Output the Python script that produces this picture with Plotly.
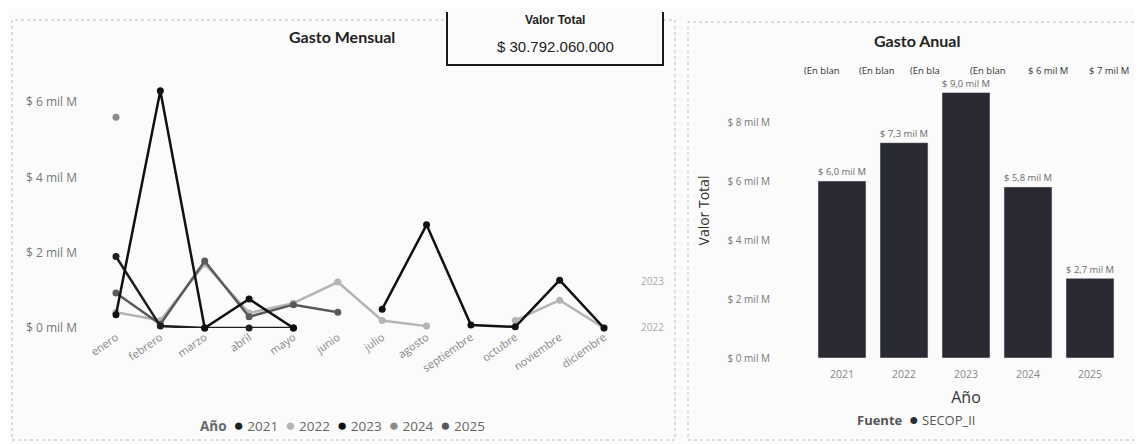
import plotly.graph_objects as go

# ---------------- data ----------------
meses = ["enero", "febrero", "marzo", "abril", "mayo", "junio", "julio",
         "agosto", "septiembre", "octubre", "noviembre", "diciembre"]

gasto_2021 = [1.9, 0.05, 0.0, 0.0, 0.0, None, None, None, None, None, None, None]
gasto_2022 = [0.42, 0.2, 1.7, 0.4, 0.66, 1.22, 0.2, 0.05, None, 0.2, 0.74, 0.0]
gasto_2023 = [0.35, 6.3, 0.0, 0.77, 0.0, None, 0.5, 2.74, 0.08, 0.03, 1.27, 0.0]
gasto_2024 = [5.6, None, None, None, None, None, None, None, None, None, None, None]
gasto_2025 = [0.93, 0.1, 1.78, 0.3, 0.62, 0.42, None, None, None, None, None, None]

anios = ["2021", "2022", "2023", "2024", "2025"]
gasto_anual = [6.0, 7.3, 9.0, 5.8, 2.7]

y_ticks_mensual = [0, 2, 4, 6]
y_ticks_anual = [0, 2, 4, 6, 8]
encabezados_anual = ["(En blan", "(En blan", "(En bla", "(En blan", "$ 6 mil M", "$ 7 mil M"]
valor_total = "$ 30.792.060.000"

# ---------------- helpers ----------------
# the page has an 8px body margin, so the figure starts at (8, 8)
OX, OY = 8, 8
W, H = 1135, 436
def px(x):
    return (x - OX) / W
def py(y):
    return 1 - (y - OY) / H

FONT = "Open Sans"
colores = {"2021": "#1e1e1e", "2022": "#b4b4b4", "2023": "#101010",
           "2024": "#8c8c8c", "2025": "#5a5a5a"}

fig = go.Figure()

series = [("2022", gasto_2022), ("2024", gasto_2024), ("2025", gasto_2025),
          ("2021", gasto_2021), ("2023", gasto_2023)]
for nombre, vals in series:
    fig.add_trace(go.Scatter(
        x=meses, y=vals, name=nombre, mode="lines+markers",
        line=dict(color=colores[nombre], width=2.5),
        marker=dict(color=colores[nombre], size=7),
        connectgaps=False, cliponaxis=False, showlegend=False,
        xaxis="x", yaxis="y"))

etiquetas = ["$ " + ("%.1f" % v).replace(".", ",") + " mil M" for v in gasto_anual]
fig.add_trace(go.Bar(
    x=anios, y=gasto_anual, name="SECOP_II", marker=dict(color="#2a2a33"),
    text=etiquetas, textposition="outside", cliponaxis=False,
    textfont=dict(size=10, color="#6a6a6a", family=FONT),
    showlegend=False, xaxis="x2", yaxis="y2"))

fig.update_layout(
    width=W, height=H, margin=dict(l=0, r=0, t=0, b=0, autoexpand=False),
    paper_bgcolor="#fbfbfb", plot_bgcolor="rgba(0,0,0,0)",
    font=dict(family=FONT, color="#777"),
    bargap=0.226,
    xaxis=dict(domain=[px(84), px(636)], type="category", tickangle=-35,
               anchor="y", automargin=False,
               showgrid=False, zeroline=False, showline=False,
               tickfont=dict(size=11, color="#888")),
    yaxis=dict(domain=[py(328), py(328 - 7 * 37.65)], range=[0, 7],
               anchor="x", automargin=False, ticklabelstandoff=6,
               tickvals=y_ticks_mensual,
               ticktext=["$ %d mil M" % v for v in y_ticks_mensual],
               showgrid=False, zeroline=False, showline=False,
               tickfont=dict(size=12, color="#777")),
    xaxis2=dict(domain=[px(811), px(1121)], type="category",
                anchor="y2", automargin=False, ticklabelstandoff=8,
                showgrid=False, zeroline=False, showline=False,
                tickfont=dict(size=10.5, color="#888"),
                title=dict(text="Año", font=dict(size=16, color="#333"), standoff=12)),
    yaxis2=dict(domain=[py(358), py(358 - 10 * 29.5)], range=[0, 10],
                anchor="x2", automargin=False, tickvals=y_ticks_anual,
                ticktext=["$ %d mil M" % v for v in y_ticks_anual],
                ticklabelstandoff=40,
                showgrid=False, zeroline=False, showline=False,
                tickfont=dict(size=10, color="#777"),
                title=dict(text="Valor Total", font=dict(size=14, color="#333"), standoff=14)),
)

shapes = [
    dict(type="rect", xref="paper", yref="paper", x0=px(12), x1=px(675), y0=py(440), y1=py(20),
         line=dict(color="#bdbdbd", width=1, dash="dot")),
    dict(type="rect", xref="paper", yref="paper", x0=px(688), x1=px(1140), y0=py(440), y1=py(22),
         line=dict(color="#bdbdbd", width=1, dash="dot")),
    dict(type="rect", xref="paper", yref="paper", x0=px(447), x1=px(663), y0=py(65), y1=py(8),
         fillcolor="#fbfbfb", line=dict(width=0)),
    dict(type="path", xref="paper", yref="paper",
         path="M %f %f L %f %f L %f %f L %f %f" % (px(447), py(12), px(447), py(65),
                                                   px(663), py(65), px(663), py(12)),
         line=dict(color="#1a1a1a", width=2)),
]
fig.update_layout(shapes=shapes)

def nota(text, x, y, size, color, family=FONT, **kw):
    return dict(text=text, x=px(x), y=py(y), xref="paper", yref="paper",
                xanchor="center", yanchor="middle", showarrow=False,
                font=dict(size=size, color=color, family=family), **kw)

ann = []
ann.append(nota("<b>Gasto Mensual</b>", 342, 37, 16, "#222", "Lato"))
ann.append(nota("<b>Gasto Anual</b>", 917, 40, 16, "#222", "Lato"))
ann.append(nota("<b>Valor Total</b>", 555, 20, 12, "#222", "Liberation Sans"))
ann.append(nota(valor_total, 555, 47, 15, "#222", "Liberation Sans"))

# legend of the monthly chart
leg = "<b>Año</b>"
for a in anios:
    leg += ("&nbsp;&nbsp;<span style='color:%s;font-size:17px'>●</span>&nbsp;%s"
            % (colores[a], a))
ann.append(nota(leg, 342, 424, 13.5, "#666"))
ann.append(nota("<b>Fuente</b>&nbsp;&nbsp;<span style='color:#2a2a33;font-size:16px'>●</span>&nbsp;SECOP_II",
                916, 419, 13, "#555"))

enc_x = [822, 877, 925, 988, 1048, 1109]
for t, xx in zip(encabezados_anual, enc_x):
    ann.append(nota(t, xx, 70, 9.5, "#333"))

for t, yy in [("2023", 281), ("2022", 327)]:
    ann.append(nota(t, 652, yy, 10, "#aaa"))

fig.update_layout(annotations=ann)
fig.write_html("out.html")
